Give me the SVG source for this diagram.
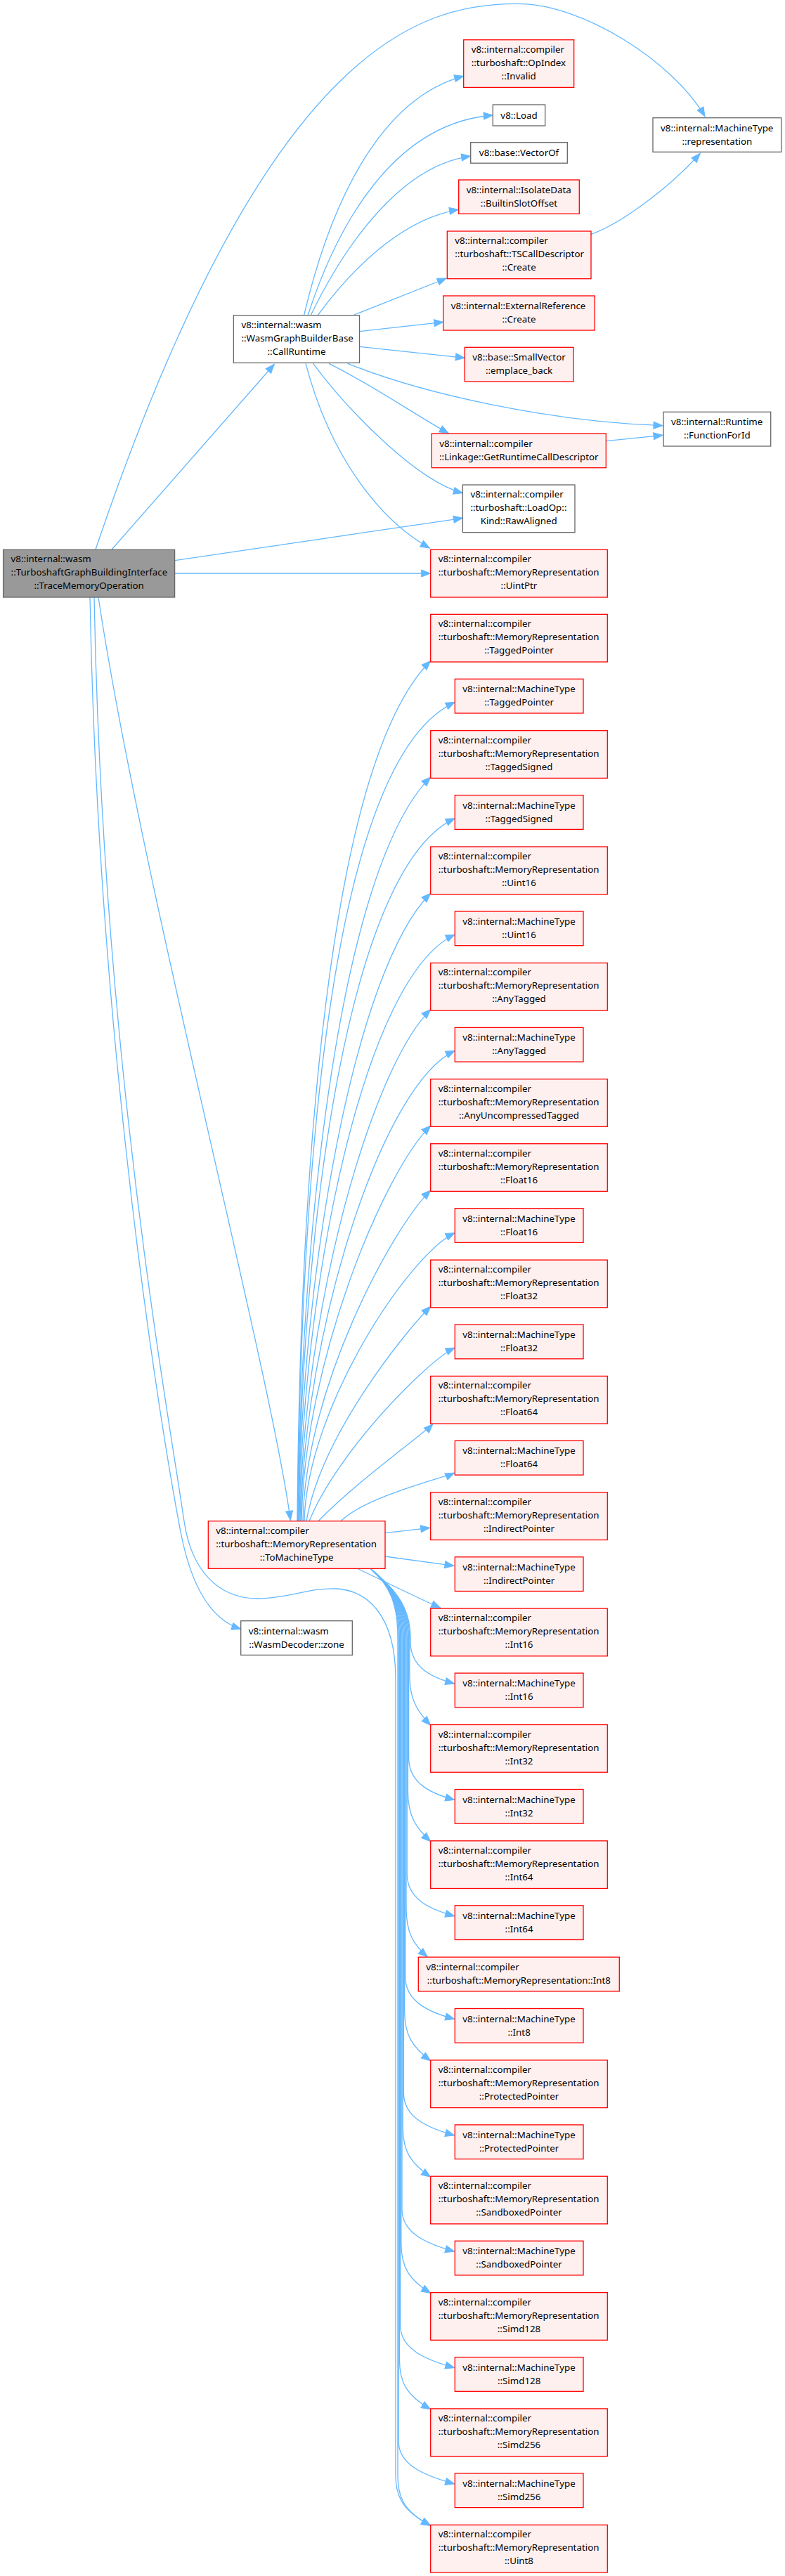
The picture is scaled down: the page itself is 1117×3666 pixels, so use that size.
<svg xmlns="http://www.w3.org/2000/svg" width="1117" height="3666" viewBox="0 0 1117 3666">
<style>
text{font-family:"Noto Sans","Open Sans","DejaVu Sans",sans-serif;font-size:13.33px;fill:#000}
.m{text-anchor:middle}
.r{fill:#fff0f0;stroke:#ff0000;stroke-width:1.3}
.w{fill:#fff;stroke:#666;stroke-width:1.3}
.g{fill:#999;stroke:#666;stroke-width:1.3}
.e path{fill:none;stroke:#63b8ff;stroke-width:1.3;marker-end:url(#a)}
</style>
<defs>
<marker id="a" markerUnits="userSpaceOnUse" markerWidth="15" markerHeight="12" refX="13" refY="5" orient="auto" overflow="visible">
<path d="M0,0 L13,5 L0,10 z" fill="#63b8ff" stroke="#63b8ff" stroke-width="1"/>
</marker>
</defs>
<rect width="1117" height="3666" fill="#fff"/>
<g id="edges" class="e">
<path d="M136,782 C380,60 600,5 736.6,5.3 C830,5 960,90 1003,165.7"/>
<path d="M159,782 L390.4,518.3"/>
<path d="M248.6,797.7 L658.4,737.3"/>
<path d="M248.6,816 L612.7,816"/>
<path d="M140,850 C200,1250 385,1950 413.3,2163.3"/>
<path d="M128,850 C140,1500 232,2050 257,2180 C272,2258 300,2305 342.7,2318.3"/>
<path d="M134,850 C146,1500 238,2000 262,2165 C272,2234 310,2275 366.7,2275 C410,2275 440,2259 480,2261 C520,2264 563,2295 563,2390 L563,3523.3 C563,3558.3 578,3575.3 612.7,3594.3"/>
<path d="M432.5,449 C470,290 540,140 659.7,108.3"/>
<path d="M438,449 C480,320 560,175 701.3,164"/>
<path d="M442,449 C490,350 570,235 669.7,222.3"/>
<path d="M452,449 C510,370 580,310 652.5,298.3"/>
<path d="M501.6,449 L635.3,396"/>
<path d="M511.5,471.7 L630.7,458.3"/>
<path d="M511.5,493.3 L661.3,509.3"/>
<path d="M494.8,517.3 C600,560 780,600 943,605.7"/>
<path d="M468,517.3 C530,548 590,590 638.3,616.7"/>
<path d="M445.5,517.3 C500,590 595,685 658.4,701.7"/>
<path d="M435,517.3 C470,650 540,740 611.4,780"/>
<path d="M841,333.3 C880,320 950,270 996.3,218.3"/>
<path d="M862.3,627.7 L943,619.3"/>
<path d="M548,2181.7 L611.7,2174.3"/>
<path d="M548,2215 L646,2228.3"/>
<path d="M510,2233 C550,2252 590,2272 626.7,2288.3"/>
<path d="M423,2164.7 C426.8,1675 465.8,1087.4 612.7,940.5"/>
<path d="M423.5,2164.7 C428,1698.5 465.5,1083.2 647.3,999.3"/>
<path d="M424,2164.7 C427.8,1741.2 485.6,1232.9 612.7,1105.9"/>
<path d="M424.5,2164.7 C429,1764.7 491.3,1236.7 647.3,1164.7"/>
<path d="M425,2164.7 C428.8,1807.3 505.5,1378.4 612.7,1271.2"/>
<path d="M426,2164.7 C430.4,1830.8 517.1,1390.1 647.3,1330"/>
<path d="M427,2164.7 C430.7,1873.4 525.3,1523.9 612.7,1436.6"/>
<path d="M428,2164.7 C432.4,1897 542.9,1543.5 647.3,1495.4"/>
<path d="M429,2164.7 C432.7,1939.6 545.2,1669.4 612.7,1601.9"/>
<path d="M431,2164.7 C434.6,1976.4 556.2,1750.4 612.7,1693.9"/>
<path d="M433,2164.7 C437.3,2000.7 583.3,1784.2 647.3,1754.7"/>
<path d="M436,2164.7 C456.9,2042.5 576.1,1895.9 612.7,1859.3"/>
<path d="M440,2164.7 C479.8,2066 608.8,1935.8 647.3,1918"/>
<path d="M453,2164.7 C506.3,2109.4 599.4,2043.1 616,2026.5"/>
<path d="M485,2164.7 C520,2130 631.1,2103.2 646.7,2096"/>
<path d="M528,2233 C553,2255 584,2280 584,2330 L584,2336.1 C584,2371.1 610,2386.1 646.7,2396.1"/>
<path d="M528,2233 C553,2255 582.8,2280 582.8,2330 L582.8,2384.5 C582.8,2419.5 594.8,2436.5 612.7,2455.5"/>
<path d="M528,2233 C553,2255 581.6,2280 581.6,2330 L581.6,2501.5 C581.6,2536.5 610,2551.5 646.7,2561.5"/>
<path d="M528,2233 C553,2255 580.4,2280 580.4,2330 L580.4,2549.8 C580.4,2584.8 592.4,2601.8 612.7,2620.8"/>
<path d="M528,2233 C553,2255 579.2,2280 579.2,2330 L579.2,2666.8 C579.2,2701.8 610,2716.8 646.7,2726.8"/>
<path d="M528,2233 C553,2255 578,2280 578,2330 L578,2715.2 C578,2750.2 588,2767.2 608.3,2785.2"/>
<path d="M528,2233 C553,2255 576.8,2280 576.8,2330 L576.8,2813.5 C576.8,2848.5 610,2863.5 646.7,2873.5"/>
<path d="M528,2233 C553,2255 575.6,2280 575.6,2330 L575.6,2861.9 C575.6,2896.9 587.6,2913.9 612.7,2932.9"/>
<path d="M528,2233 C553,2255 574.4,2280 574.4,2330 L574.4,2978.9 C574.4,3013.9 610,3028.9 646.7,3038.9"/>
<path d="M528,2233 C553,2255 573.2,2280 573.2,2330 L573.2,3027.2 C573.2,3062.2 585.2,3079.2 612.7,3098.2"/>
<path d="M528,2233 C553,2255 572,2280 572,2330 L572,3144.2 C572,3179.2 610,3194.2 646.7,3204.2"/>
<path d="M528,2233 C553,2255 570.8,2280 570.8,2330 L570.8,3192.6 C570.8,3227.6 582.8,3244.6 612.7,3263.6"/>
<path d="M528,2233 C553,2255 569.6,2280 569.6,2330 L569.6,3309.6 C569.6,3344.6 610,3359.6 646.7,3369.6"/>
<path d="M528,2233 C553,2255 568.4,2280 568.4,2330 L568.4,3357.9 C568.4,3392.9 580.4,3409.9 612.7,3428.9"/>
<path d="M528,2233 C553,2255 567.2,2280 567.2,2330 L567.2,3474.9 C567.2,3509.9 610,3524.9 646.7,3534.9"/>
<path d="M528,2233 C553,2255 566,2280 566,2330 L566,3523.3 C566,3558.3 578,3575.3 612.7,3594.3"/>
</g>
<g id="n_main"><rect class="g" x="4.6" y="782.3" width="244" height="67.7"/><text x="15.6" y="800.3">v8::internal::wasm</text><text x="15.6" y="819.3">::TurboshaftGraphBuildingInterface</text><text class="m" x="126.6" y="838.3">::TraceMemoryOperation</text></g>
<g id="n_callruntime"><rect class="w" x="332.4" y="448.7" width="179.1" height="67.7"/><text x="343.4" y="466.7">v8::internal::wasm</text><text x="343.4" y="485.7">::WasmGraphBuilderBase</text><text class="m" x="422" y="504.7">::CallRuntime</text></g>
<g id="n_tomachinetype"><rect class="r" x="296.3" y="2164.7" width="251.7" height="67.7"/><text x="307.3" y="2182.7">v8::internal::compiler</text><text x="307.3" y="2201.7">::turboshaft::MemoryRepresentation</text><text class="m" x="422.2" y="2220.7">::ToMachineType</text></g>
<g id="n_zone"><rect class="w" x="342.7" y="2306.7" width="158.6" height="48.7"/><text x="353.7" y="2325.7">v8::internal::wasm</text><text class="m" x="422" y="2344.7">::WasmDecoder::zone</text></g>
<g id="n_opindex"><rect class="r" x="659.7" y="56.7" width="157" height="67.7"/><text x="670.7" y="74.7">v8::internal::compiler</text><text x="670.7" y="93.7">::turboshaft::OpIndex</text><text class="m" x="738.2" y="112.7">::Invalid</text></g>
<g id="n_load"><rect class="w" x="701.3" y="149" width="74.4" height="30"/><text class="m" x="738.5" y="168.5">v8::Load</text></g>
<g id="n_vectorof"><rect class="w" x="669.7" y="202.7" width="137.6" height="29.5"/><text class="m" x="738.5" y="222">v8::base::VectorOf</text></g>
<g id="n_builtinslot"><rect class="r" x="652.7" y="256" width="171.6" height="48.3"/><text x="663.7" y="275">v8::internal::IsolateData</text><text class="m" x="738.5" y="294">::BuiltinSlotOffset</text></g>
<g id="n_tscall"><rect class="r" x="636.3" y="329" width="204.7" height="67.7"/><text x="647.3" y="347">v8::internal::compiler</text><text x="647.3" y="366">::turboshaft::TSCallDescriptor</text><text class="m" x="738.6" y="385">::Create</text></g>
<g id="n_extref"><rect class="r" x="630.7" y="421" width="215.6" height="49"/><text x="641.7" y="440">v8::internal::ExternalReference</text><text class="m" x="738.5" y="459">::Create</text></g>
<g id="n_emplace"><rect class="r" x="661.3" y="494.3" width="154.7" height="48.7"/><text x="672.3" y="513.3">v8::base::SmallVector</text><text class="m" x="738.6" y="532.3">::emplace_back</text></g>
<g id="n_getruntime"><rect class="r" x="614.3" y="617" width="248" height="48.7"/><text x="625.3" y="636">v8::internal::compiler</text><text class="m" x="738.3" y="655">::Linkage::GetRuntimeCallDescriptor</text></g>
<g id="n_rawaligned"><rect class="w" x="658.4" y="690" width="159.6" height="67.7"/><text x="669.4" y="708">v8::internal::compiler</text><text x="669.4" y="727">::turboshaft::LoadOp::</text><text class="m" x="738.2" y="746">Kind::RawAligned</text></g>
<g id="n_representation"><rect class="w" x="929" y="167.7" width="182.7" height="48.6"/><text x="940" y="186.7">v8::internal::MachineType</text><text class="m" x="1020.3" y="205.7">::representation</text></g>
<g id="n_functionforid"><rect class="w" x="944" y="586.3" width="152.7" height="48.7"/><text x="955" y="605.3">v8::internal::Runtime</text><text class="m" x="1020.3" y="624.3">::FunctionForId</text></g>
<g id="n_mr_uintptr"><rect class="r" x="612.7" y="782.3" width="251.6" height="67.7"/><text x="623.7" y="800.3">v8::internal::compiler</text><text x="623.7" y="819.3">::turboshaft::MemoryRepresentation</text><text class="m" x="738.5" y="838.3">::UintPtr</text></g>
<g id="n_mr_taggedpointer"><rect class="r" x="612.7" y="874.3" width="251.6" height="67.7"/><text x="623.7" y="892.3">v8::internal::compiler</text><text x="623.7" y="911.3">::turboshaft::MemoryRepresentation</text><text class="m" x="738.5" y="930.3">::TaggedPointer</text></g>
<g id="n_mt_taggedpointer"><rect class="r" x="647.3" y="966.3" width="182.7" height="48.7"/><text x="658.3" y="985.3">v8::internal::MachineType</text><text class="m" x="738.6" y="1004.3">::TaggedPointer</text></g>
<g id="n_mr_taggedsigned"><rect class="r" x="612.7" y="1039.7" width="251.6" height="67.7"/><text x="623.7" y="1057.7">v8::internal::compiler</text><text x="623.7" y="1076.7">::turboshaft::MemoryRepresentation</text><text class="m" x="738.5" y="1095.7">::TaggedSigned</text></g>
<g id="n_mt_taggedsigned"><rect class="r" x="647.3" y="1131.7" width="182.7" height="48.7"/><text x="658.3" y="1150.7">v8::internal::MachineType</text><text class="m" x="738.6" y="1169.7">::TaggedSigned</text></g>
<g id="n_mr_uint16"><rect class="r" x="612.7" y="1205" width="251.6" height="67.7"/><text x="623.7" y="1223">v8::internal::compiler</text><text x="623.7" y="1242">::turboshaft::MemoryRepresentation</text><text class="m" x="738.5" y="1261">::Uint16</text></g>
<g id="n_mt_uint16"><rect class="r" x="647.3" y="1297" width="182.7" height="48.7"/><text x="658.3" y="1316">v8::internal::MachineType</text><text class="m" x="738.6" y="1335">::Uint16</text></g>
<g id="n_mr_anytagged"><rect class="r" x="612.7" y="1370.4" width="251.6" height="67.7"/><text x="623.7" y="1388.4">v8::internal::compiler</text><text x="623.7" y="1407.4">::turboshaft::MemoryRepresentation</text><text class="m" x="738.5" y="1426.4">::AnyTagged</text></g>
<g id="n_mt_anytagged"><rect class="r" x="647.3" y="1462.4" width="182.7" height="48.7"/><text x="658.3" y="1481.4">v8::internal::MachineType</text><text class="m" x="738.6" y="1500.4">::AnyTagged</text></g>
<g id="n_mr_anyuncompressed"><rect class="r" x="612.7" y="1535.7" width="251.6" height="67.7"/><text x="623.7" y="1553.7">v8::internal::compiler</text><text x="623.7" y="1572.7">::turboshaft::MemoryRepresentation</text><text class="m" x="738.5" y="1591.7">::AnyUncompressedTagged</text></g>
<g id="n_mr_float16"><rect class="r" x="612.7" y="1627.7" width="251.6" height="67.7"/><text x="623.7" y="1645.7">v8::internal::compiler</text><text x="623.7" y="1664.7">::turboshaft::MemoryRepresentation</text><text class="m" x="738.5" y="1683.7">::Float16</text></g>
<g id="n_mt_float16"><rect class="r" x="647.3" y="1719.7" width="182.7" height="48.7"/><text x="658.3" y="1738.7">v8::internal::MachineType</text><text class="m" x="738.6" y="1757.7">::Float16</text></g>
<g id="n_mr_float32"><rect class="r" x="612.7" y="1793.1" width="251.6" height="67.7"/><text x="623.7" y="1811.1">v8::internal::compiler</text><text x="623.7" y="1830.1">::turboshaft::MemoryRepresentation</text><text class="m" x="738.5" y="1849.1">::Float32</text></g>
<g id="n_mt_float32"><rect class="r" x="647.3" y="1885.1" width="182.7" height="48.7"/><text x="658.3" y="1904.1">v8::internal::MachineType</text><text class="m" x="738.6" y="1923.1">::Float32</text></g>
<g id="n_mr_float64"><rect class="r" x="612.7" y="1958.4" width="251.6" height="67.7"/><text x="623.7" y="1976.4">v8::internal::compiler</text><text x="623.7" y="1995.4">::turboshaft::MemoryRepresentation</text><text class="m" x="738.5" y="2014.4">::Float64</text></g>
<g id="n_mt_float64"><rect class="r" x="647.3" y="2050.4" width="182.7" height="48.7"/><text x="658.3" y="2069.4">v8::internal::MachineType</text><text class="m" x="738.6" y="2088.4">::Float64</text></g>
<g id="n_mr_indirect"><rect class="r" x="612.7" y="2123.8" width="251.6" height="67.7"/><text x="623.7" y="2141.8">v8::internal::compiler</text><text x="623.7" y="2160.8">::turboshaft::MemoryRepresentation</text><text class="m" x="738.5" y="2179.8">::IndirectPointer</text></g>
<g id="n_mt_indirect"><rect class="r" x="647.3" y="2215.8" width="182.7" height="48.7"/><text x="658.3" y="2234.8">v8::internal::MachineType</text><text class="m" x="738.6" y="2253.8">::IndirectPointer</text></g>
<g id="n_mr_int16"><rect class="r" x="612.7" y="2289.1" width="251.6" height="67.7"/><text x="623.7" y="2307.1">v8::internal::compiler</text><text x="623.7" y="2326.1">::turboshaft::MemoryRepresentation</text><text class="m" x="738.5" y="2345.1">::Int16</text></g>
<g id="n_mt_int16"><rect class="r" x="647.3" y="2381.1" width="182.7" height="48.7"/><text x="658.3" y="2400.1">v8::internal::MachineType</text><text class="m" x="738.6" y="2419.1">::Int16</text></g>
<g id="n_mr_int32"><rect class="r" x="612.7" y="2454.5" width="251.6" height="67.7"/><text x="623.7" y="2472.5">v8::internal::compiler</text><text x="623.7" y="2491.5">::turboshaft::MemoryRepresentation</text><text class="m" x="738.5" y="2510.5">::Int32</text></g>
<g id="n_mt_int32"><rect class="r" x="647.3" y="2546.5" width="182.7" height="48.7"/><text x="658.3" y="2565.5">v8::internal::MachineType</text><text class="m" x="738.6" y="2584.5">::Int32</text></g>
<g id="n_mr_int64"><rect class="r" x="612.7" y="2619.8" width="251.6" height="67.7"/><text x="623.7" y="2637.8">v8::internal::compiler</text><text x="623.7" y="2656.8">::turboshaft::MemoryRepresentation</text><text class="m" x="738.5" y="2675.8">::Int64</text></g>
<g id="n_mt_int64"><rect class="r" x="647.3" y="2711.8" width="182.7" height="48.7"/><text x="658.3" y="2730.8">v8::internal::MachineType</text><text class="m" x="738.6" y="2749.8">::Int64</text></g>
<g id="n_mr_int8"><rect class="r" x="595.3" y="2785.2" width="286" height="48.7"/><text x="606.3" y="2804.2">v8::internal::compiler</text><text class="m" x="738.3" y="2823.2">::turboshaft::MemoryRepresentation::Int8</text></g>
<g id="n_mt_int8"><rect class="r" x="647.3" y="2858.5" width="182.7" height="48.7"/><text x="658.3" y="2877.5">v8::internal::MachineType</text><text class="m" x="738.6" y="2896.5">::Int8</text></g>
<g id="n_mr_protected"><rect class="r" x="612.7" y="2931.9" width="251.6" height="67.7"/><text x="623.7" y="2949.9">v8::internal::compiler</text><text x="623.7" y="2968.9">::turboshaft::MemoryRepresentation</text><text class="m" x="738.5" y="2987.9">::ProtectedPointer</text></g>
<g id="n_mt_protected"><rect class="r" x="647.3" y="3023.9" width="182.7" height="48.7"/><text x="658.3" y="3042.9">v8::internal::MachineType</text><text class="m" x="738.6" y="3061.9">::ProtectedPointer</text></g>
<g id="n_mr_sandboxed"><rect class="r" x="612.7" y="3097.2" width="251.6" height="67.7"/><text x="623.7" y="3115.2">v8::internal::compiler</text><text x="623.7" y="3134.2">::turboshaft::MemoryRepresentation</text><text class="m" x="738.5" y="3153.2">::SandboxedPointer</text></g>
<g id="n_mt_sandboxed"><rect class="r" x="647.3" y="3189.2" width="182.7" height="48.7"/><text x="658.3" y="3208.2">v8::internal::MachineType</text><text class="m" x="738.6" y="3227.2">::SandboxedPointer</text></g>
<g id="n_mr_simd128"><rect class="r" x="612.7" y="3262.6" width="251.6" height="67.7"/><text x="623.7" y="3280.6">v8::internal::compiler</text><text x="623.7" y="3299.6">::turboshaft::MemoryRepresentation</text><text class="m" x="738.5" y="3318.6">::Simd128</text></g>
<g id="n_mt_simd128"><rect class="r" x="647.3" y="3354.6" width="182.7" height="48.7"/><text x="658.3" y="3373.6">v8::internal::MachineType</text><text class="m" x="738.6" y="3392.6">::Simd128</text></g>
<g id="n_mr_simd256"><rect class="r" x="612.7" y="3427.9" width="251.6" height="67.7"/><text x="623.7" y="3445.9">v8::internal::compiler</text><text x="623.7" y="3464.9">::turboshaft::MemoryRepresentation</text><text class="m" x="738.5" y="3483.9">::Simd256</text></g>
<g id="n_mt_simd256"><rect class="r" x="647.3" y="3519.9" width="182.7" height="48.7"/><text x="658.3" y="3538.9">v8::internal::MachineType</text><text class="m" x="738.6" y="3557.9">::Simd256</text></g>
<g id="n_mr_uint8"><rect class="r" x="612.7" y="3593.3" width="251.6" height="67.7"/><text x="623.7" y="3611.3">v8::internal::compiler</text><text x="623.7" y="3630.3">::turboshaft::MemoryRepresentation</text><text class="m" x="738.5" y="3649.3">::Uint8</text></g>
</svg>
